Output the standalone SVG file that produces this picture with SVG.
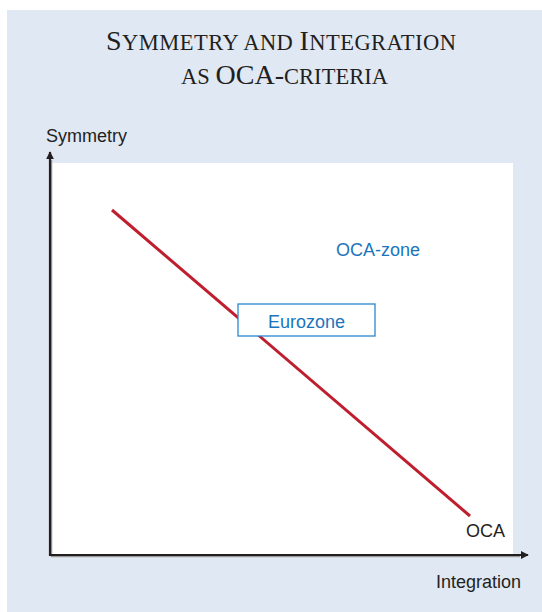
<svg xmlns="http://www.w3.org/2000/svg" width="542" height="612" viewBox="0 0 542 612">
<style>
.title{font-family:"Liberation Serif","Times New Roman",serif;fill:#231f20}
.lbl{font-family:"Liberation Sans",Arial,sans-serif;font-size:18px;fill:#231f20}
.blue{font-family:"Liberation Sans",Arial,sans-serif;font-size:18px;fill:#1b75bc}
.axis{stroke:#231f20;stroke-width:2.2;fill:none}
.shadow{stroke:#9a9a9a;stroke-width:1.5;fill:none}
</style>
<defs>
<marker id="arr" viewBox="0 0 10 10" refX="9" refY="5" markerWidth="8" markerHeight="8" markerUnits="userSpaceOnUse" orient="auto">
<path d="M0,0 L10,5 L0,10 z" fill="#231f20"/>
</marker>
</defs>
<rect x="7" y="10" width="535" height="602" fill="#e0e8f4"/>
<g id="title">
<text class="title" x="281" y="50" text-anchor="middle" textLength="350" lengthAdjust="spacing"><tspan font-size="28">S</tspan><tspan font-size="22.5">YMMETRY AND </tspan><tspan font-size="28">I</tspan><tspan font-size="22.5">NTEGRATION</tspan></text>
<text class="title" x="284.5" y="84" text-anchor="middle" textLength="207" lengthAdjust="spacing"><tspan font-size="22.5">AS </tspan><tspan font-size="28">OCA-</tspan><tspan font-size="22.5">CRITERIA</tspan></text>
</g>
<g id="plot-area">
<rect x="50" y="163" width="463" height="392" fill="#ffffff"/>
</g>
<g id="connectors">
<line class="shadow" x1="51.5" y1="160" x2="51.5" y2="557"/>
<line class="shadow" x1="51" y1="556.5" x2="520" y2="556.5"/>
<line class="axis" x1="50" y1="556" x2="50" y2="152" marker-end="url(#arr)"/>
<line class="axis" x1="49" y1="555" x2="528" y2="555" marker-end="url(#arr)"/>
<line x1="112" y1="210" x2="470" y2="516" stroke="#be1e2d" stroke-width="3"/>
</g>
<g id="y-label"><text class="lbl" x="46" y="142">Symmetry</text></g>
<g id="x-label"><text class="lbl" x="521" y="588" text-anchor="end">Integration</text></g>
<g id="oca-zone"><text class="blue" x="378" y="256" text-anchor="middle">OCA-zone</text></g>
<g id="eurozone">
<rect x="238" y="304" width="137" height="32" fill="#ffffff" stroke="#2a88cf" stroke-width="1.3"/>
<text class="blue" x="306.5" y="328" text-anchor="middle">Eurozone</text>
</g>
<g id="oca"><text class="lbl" x="485.5" y="537" text-anchor="middle">OCA</text></g>
</svg>
